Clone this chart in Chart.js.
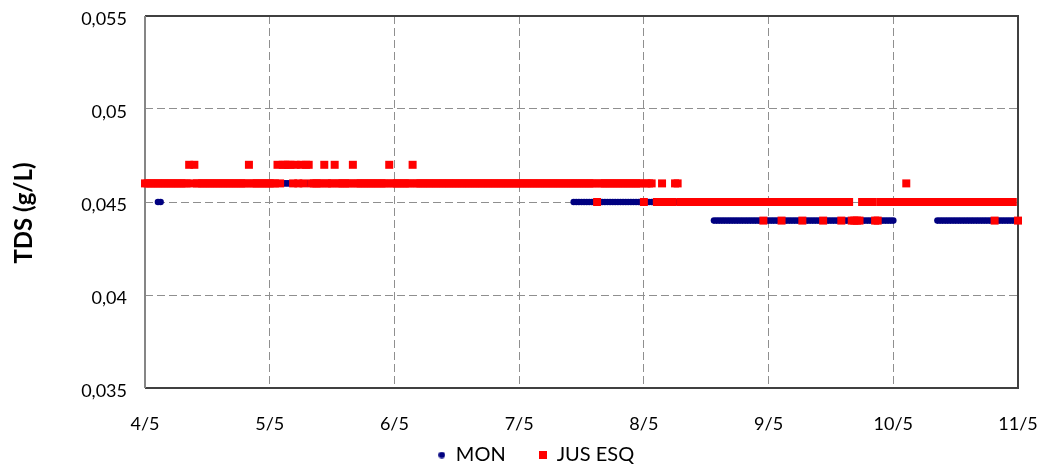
<!DOCTYPE html>
<html>
<head>
<meta charset="utf-8">
<script src="https://cdn.jsdelivr.net/npm/chart.js@4"></script>
<style>
  html, body { margin: 0; padding: 0; background: #fff; }
  #wrap { width: 1046px; height: 468px; }
</style>
</head>
<body>
<div id="wrap"><canvas id="myChart" width="1046" height="468"></canvas></div>
<script>
// eixo x: horas desde 4/5 00:00, uma leitura a cada 30 min
const dayLabels = ["4/5", "5/5", "6/5", "7/5", "8/5", "9/5", "10/5", "11/5"];
const stepHours = 0.5;
const yTicks = [0.035, 0.04, 0.045, 0.05, 0.055];

// MON: trechos com leitura constante [hora inicial, hora final, TDS]
const monRuns = [
  [0, 2, 0.046],
  [2.5, 3, 0.045],
  [3.5, 82, 0.046],
  [82.5, 109, 0.045],
  [109.5, 144, 0.044],
  [144.5, 152, 0.045],
  [152.5, 168, 0.044],
];

// JUS ESQ: trechos com leitura constante
const jusRuns = [
  [0, 97.5, 0.046],
  [98.5, 167, 0.045],
];
// JUS ESQ: leituras isoladas que fogem do trecho
const jusHours = [8.5, 9.5, 20, 25.5, 26.5, 27, 27.5, 28, 29, 30, 31, 31.5, 34.5, 36.5, 40, 47, 51.5,
  87, 96, 99.5, 102, 102.5,
  119, 122.5, 126.5, 130.5, 134, 136, 136.5, 137, 137.5, 140.5, 141, 146.5, 163.5, 168];
const jusValues = [0.047, 0.047, 0.047, 0.047, 0.047, 0.047, 0.047, 0.047, 0.047, 0.047, 0.047, 0.047, 0.047, 0.047, 0.047, 0.047, 0.047,
  0.045, 0.045, 0.046, 0.046, 0.046,
  0.044, 0.044, 0.044, 0.044, 0.044, 0.044, 0.044, 0.044, 0.044, 0.044, 0.044, 0.046, 0.044, 0.044];

// monta os pontos a partir dos trechos
function buildPoints(runs, hours, values) {
  const map = new Map();
  runs.forEach(function (r) {
    for (let h = r[0]; h <= r[1] + 1e-9; h += stepHours) {
      map.set(Math.round(h * 100) / 100, r[2]);
    }
  });
  (hours || []).forEach(function (h, i) {
    map.set(h, values[i]);
  });
  return Array.from(map.entries())
    .sort((a, b) => a[0] - b[0])
    .map((e) => ({ x: e[0], y: e[1] }));
}

const monData = buildPoints(monRuns);
const jusData = buildPoints(jusRuns, jusHours, jusValues);

// marcadores da legenda
function markerCanvas(kind, color) {
  const c = document.createElement("canvas");
  const s = kind === "dot" ? 7 : 8;
  c.width = s;
  c.height = s;
  const g = c.getContext("2d");
  g.fillStyle = color;
  if (kind === "dot") {
    g.beginPath();
    g.arc(s / 2, s / 2, 3.3, 0, Math.PI * 2);
    g.fill();
  } else {
    g.fillRect(0, 0, s, s);
  }
  return c;
}
const monMarker = markerCanvas("dot", "#000080");
const jusMarker = markerCanvas("square", "#ff0000");

const FONT = "Lato, 'Open Sans', sans-serif";

// moldura da área do gráfico
const framePlugin = {
  id: "frame",
  beforeDatasetsDraw(chart) {
    const a = chart.chartArea;
    const ctx = chart.ctx;
    ctx.save();
    ctx.strokeStyle = "#404040";
    ctx.lineWidth = 2;
    ctx.beginPath();
    ctx.moveTo(a.left, a.top);
    ctx.lineTo(a.right, a.top);
    ctx.lineTo(a.right, a.bottom);
    ctx.lineTo(a.left, a.bottom);
    ctx.stroke();
    ctx.strokeStyle = "#868686";
    ctx.beginPath();
    ctx.moveTo(a.left, a.top);
    ctx.lineTo(a.left, a.bottom);
    ctx.stroke();
    ctx.restore();
  },
};

// título do eixo y
const yTitlePlugin = {
  id: "yTitle",
  afterDraw(chart) {
    const ctx = chart.ctx;
    ctx.save();
    ctx.translate(24, 213);
    ctx.rotate(-Math.PI / 2);
    ctx.font = "bold 24px " + FONT;
    ctx.fillStyle = "#000";
    ctx.textAlign = "center";
    ctx.textBaseline = "middle";
    ctx.fillText("TDS (g/L)", 0, 0);
    ctx.restore();
  },
};

const config = {
  type: "scatter",
  data: {
    datasets: [
      {
        label: "MON",
        data: monData,
        pointStyle: "circle",
        pointRadius: 3.3,
        pointBorderWidth: 0,
        backgroundColor: "#000080",
        borderColor: "#000080",
        order: 1,
        clip: false,
      },
      {
        label: "JUS ESQ",
        data: jusData,
        pointStyle: "rect",
        pointRadius: 5.66,
        pointBorderWidth: 0,
        backgroundColor: "#ff0000",
        borderColor: "#ff0000",
        order: 0,
        clip: false,
      },
    ],
  },
  options: {
    responsive: false,
    animation: false,
    events: [],
    layout: { padding: { left: 54, right: 28, top: 16, bottom: 0 } },
    scales: {
      x: {
        type: "linear",
        min: 0,
        max: 168,
        afterFit: (scale) => {
          scale.height = 24;
          scale.paddingLeft = 0;
          scale.paddingRight = 0;
        },
        afterBuildTicks: (scale) => {
          scale.ticks = dayLabels.map((_, i) => ({ value: i * 24 }));
        },
        ticks: {
          mirror: true,
          padding: -47,
          maxRotation: 0,
          autoSkip: false,
          color: "#000",
          font: { family: FONT, size: 18 },
          callback: (v) => dayLabels[Math.round(v / 24)],
        },
        grid: { color: "#8f8f8f", lineWidth: 1, drawTicks: false },
        border: { display: false, dash: [8, 4] },
      },
      y: {
        min: 0.035,
        max: 0.055,
        afterFit: (scale) => {
          scale.width = 91;
          scale.paddingTop = 0;
          scale.paddingBottom = 0;
        },
        afterBuildTicks: (scale) => {
          scale.ticks = yTicks.map((v) => ({ value: v }));
        },
        ticks: {
          padding: 18,
          labelOffset: 3,
          color: "#000",
          font: { family: FONT, size: 18 },
          callback: (v) => String(Number(v.toFixed(3))).replace(".", ","),
        },
        grid: { color: "#8f8f8f", lineWidth: 1, drawTicks: false },
        border: { display: false, dash: [8, 4] },
      },
    },
    plugins: {
      title: { display: false },
      tooltip: { enabled: false },
      legend: {
        display: true,
        position: "bottom",
        maxHeight: 56,
        labels: {
          usePointStyle: true,
          pointStyleWidth: 8,
          boxHeight: 8,
          padding: 33,
          color: "#000",
          font: { family: FONT, size: 20 },
          generateLabels: () => [
            { text: "MON", pointStyle: monMarker, fillStyle: "#000080", strokeStyle: "#000080", lineWidth: 0, hidden: false, datasetIndex: 0 },
            { text: "JUS ESQ", pointStyle: jusMarker, fillStyle: "#ff0000", strokeStyle: "#ff0000", lineWidth: 0, hidden: false, datasetIndex: 1 },
          ],
        },
      },
    },
  },
  plugins: [framePlugin, yTitlePlugin],
};

const myChart = new Chart(document.getElementById("myChart"), config);
</script>
</body>
</html>
